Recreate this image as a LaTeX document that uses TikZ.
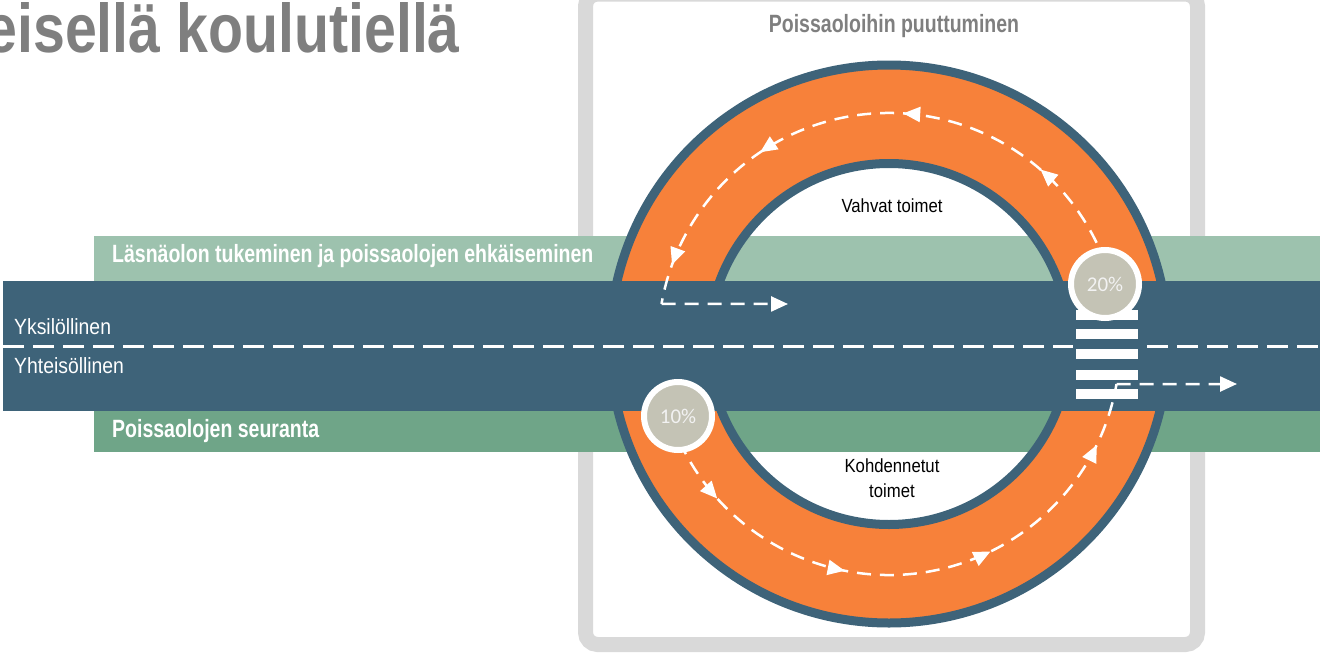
\documentclass[tikz,border=0pt]{standalone}
\usepackage{fontspec}
\setmainfont{Liberation Sans}
\newfontfamily\narrowbold[FakeStretch=0.78]{Liberation Sans}
\newfontfamily\titlefont[FakeStretch=0.83]{Liberation Sans}
\newfontfamily\narrowreg[FakeStretch=0.88]{Liberation Sans}
\newfontfamily\calib{Carlito}
\usetikzlibrary{arrows.meta,decorations.markings,calc}
\definecolor{roadc}{HTML}{3E6379}
\definecolor{bandA}{HTML}{9DC2AE}
\definecolor{bandB}{HTML}{6FA588}
\definecolor{ringc}{HTML}{F7813A}
\definecolor{boxgray}{HTML}{D9D9D9}
\definecolor{pctc}{HTML}{C4C3B5}
\definecolor{titlegray}{HTML}{7F7F7F}
\tikzset{
  bandlabel/.style={text=white, font=\narrowbold\bfseries\fontsize{25}{30}\selectfont, inner sep=0, anchor=west},
  boxlabel/.style={text=titlegray, font=\narrowbold\bfseries\fontsize{25}{30}\selectfont, inner sep=0},
  roadlabel/.style={text=white, font=\narrowreg\fontsize{22}{26}\selectfont, inner sep=0, anchor=west},
  innerlabel/.style={text=black, font=\narrowreg\fontsize{19}{25}\selectfont, inner sep=0, align=center},
  pctcircle/.style={circle, draw=white, line width=6pt, fill=pctc, minimum size=68pt, inner sep=0,
     text=white!95!black, font=\calib\fontsize{21}{24}\selectfont},
  flow/.style={white, line width=2.5pt, dash pattern=on 14pt off 9pt},
  tipA/.style={-{Triangle[length=17pt,width=15pt]}},
  stripe/.style={fill=white}
}
\begin{document}
\begin{tikzpicture}[x=1pt,y=1pt]
\useasboundingbox (0,0) rectangle (1320,-653);
% title (cut off at the left edge)
\node[anchor=base east, inner sep=0, text=titlegray, font=\titlefont\bfseries\fontsize{69}{72}\selectfont] (title) at (460,-52) {eisellä koulutiellä};
% gray frame
\draw[boxgray, line width=15pt, rounded corners=12pt] (585.5,6) rectangle (1197.5,-644.5);
\node[boxlabel] (boxlabel) at (894,-26) {Poissaoloihin puuttuminen};
% bands
\fill[bandA] (94,-236) rectangle (1320,-281);
\fill[bandB] (94,-411) rectangle (1320,-452);
% ring
\coordinate (c) at (889,-344);
\fill[ringc, even odd rule] (c) circle[radius=279] (c) circle[radius=180.5];
\draw[roadc, line width=9pt] (c) circle[radius=279];
\draw[roadc, line width=9pt] (c) circle[radius=180.5];
% road
\fill[roadc] (3,-281) rectangle (1320,-411);
% band labels
\node[bandlabel] (lA) at (112,-256) {Läsnäolon tukeminen ja poissaolojen ehkäiseminen};
\node[bandlabel] (lB) at (112,-431) {Poissaolojen seuranta};
% road labels
\node[roadlabel] (rA) at (14,-327) {Yksilöllinen};
\node[roadlabel] (rB) at (14,-366) {Yhteisöllinen};
% center line
\coordinate (m0) at (3,-346);
\coordinate (m1) at (1073,-346);
\coordinate (m2) at (1147,-346);
\coordinate (m3) at (1320,-346);
\draw[white, line width=3pt, dash pattern=on 21pt off 9pt] (m0) -- (m1);
\draw[white, line width=3pt, dash pattern=on 21pt off 9pt] (m2) -- (m3);
% inner labels
\node[innerlabel] (vA) at (892,-206) {Vahvat toimet};
\node[innerlabel] (vB) at (892,-478) {Kohdennetut\\toimet};
% crosswalk
\foreach \yy in {315,334,354,375,394}{
  \fill[stripe] (1076,{-\yy+5}) rectangle (1138,{-\yy-5});
}
% top flow arc
\draw[flow, postaction={solid, decorate}, decoration={markings,
   mark=at position 0.16 with {\arrow{Triangle[length=17pt,width=15pt]}},
   mark=at position 0.42 with {\arrow{Triangle[length=17pt,width=15pt]}},
   mark=at position 0.68 with {\arrow{Triangle[length=17pt,width=15pt]}},
   mark=at position 0.93 with {\arrow{Triangle[length=17pt,width=15pt]}}}]
   ($(c)+(26:231)$) arc[start angle=26, end angle=170, radius=231] coordinate (tEnd);
\coordinate (tArr) at (788,-304);
\draw[flow, tipA] (tEnd) -- (tArr);
% bottom flow arc
\draw[flow, postaction={solid, decorate}, decoration={markings,
   mark=at position 0.117 with {\arrow{Triangle[length=17pt,width=15pt]}},
   mark=at position 0.372 with {\arrow{Triangle[length=17pt,width=15pt]}},
   mark=at position 0.628 with {\arrow{Triangle[length=17pt,width=15pt]}},
   mark=at position 0.89 with {\arrow{Triangle[length=17pt,width=15pt]}}}]
   ($(c)+(205:231)$) arc[start angle=205, end angle=350, radius=231] coordinate (bEnd);
\coordinate (bArr) at (1237,-384);
\draw[flow, tipA] (bEnd) -- (bArr);
% percentage circles
\node[pctcircle] (p20) at (1105,-284) {20\%};
\node[pctcircle] (p10) at (678,-416) {10\%};
\end{tikzpicture}
\end{document}
